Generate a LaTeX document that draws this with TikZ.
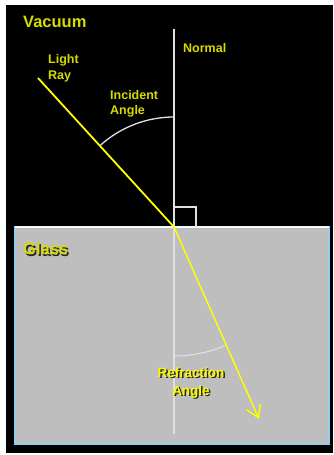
\documentclass[tikz,border=0pt]{standalone}
\usepackage{fontspec}
\setmainfont{Liberation Sans}
\usetikzlibrary{arrows.meta}
\definecolor{lbl}{RGB}{214,220,0}
\definecolor{ray}{RGB}{255,255,0}
\definecolor{glass}{RGB}{190,190,190}
\definecolor{rim}{RGB}{150,205,235}
\definecolor{shade}{RGB}{40,40,20}
\tikzset{
  lab/.style={text=lbl,font=\bfseries\fontsize{12.5}{15.5}\selectfont,align=left,inner sep=0pt},
  big/.style={lab,font=\bfseries\fontsize{16.5}{19}\selectfont},
  shd/.style={text=shade},
  rayline/.style={draw=ray,line width=1.8pt},
  guide/.style={draw=white!88!black,line width=1.4pt},
}
\begin{document}
\begin{tikzpicture}[x=1pt,y=1pt]
\useasboundingbox (0,0) rectangle (333,455);
\fill[white] (0,0) rectangle (333,455);
\fill[black] (6,2) rectangle (333,450);
\fill[glass] (15,11) rectangle (329,228);
\draw[rim,line width=1.3pt] (15,11) rectangle (329,228);
\draw[white!90!rim,line width=1.3pt] (15,228) -- (329,228);
\coordinate (O) at (174,228);
\coordinate (NT) at (174,426);
\coordinate (NB) at (174,21);
\coordinate (L) at (38,377);
\coordinate (T) at (259,36);
\coordinate (SQ) at (196,248);
\draw[guide] (NT) -- (NB);
\draw[guide,line width=1.1pt] (O |- SQ) -- (SQ) -- (SQ |- O);
\draw[guide,line width=1.3pt] (O) ++(90:110) arc[start angle=90,end angle=132.4,radius=110];
\draw[guide,line width=1.1pt] (O) ++(-90:129) arc[start angle=-90,end angle=-66.1,radius=129];
\draw[rayline] (L) -- (O);
\draw[rayline,line width=1.4pt,-{Straight Barb[length=12pt,width=15pt,line width=1.4pt]}] (O) -- (T);
\node[big,anchor=west] (vac) at (23,433) {Vacuum};
\node[lab,anchor=west] (nor) at (183,407) {Normal};
\node[lab,anchor=west,font=\bfseries\fontsize{12.5}{16}\selectfont] (lr) at (48,387) {Light\\Ray};
\node[lab,anchor=west,font=\bfseries\fontsize{12.5}{15}\selectfont] (ia) at (110,351.5) {Incident\\Angle};
\node[big,shd,anchor=west] (gls) at (24.5,204.5) {Glass};
\node[big,anchor=west] (gl) at (23,206) {Glass};
\node[lab,shd,align=center,font=\bfseries\fontsize{13.5}{18}\selectfont] (rfs) at (192.5,70.5) {Refraction\\Angle};
\node[lab,align=center,text=ray!85!lbl,font=\bfseries\fontsize{13.5}{18}\selectfont] (rf) at (191,72) {Refraction\\Angle};
\end{tikzpicture}
\end{document}
